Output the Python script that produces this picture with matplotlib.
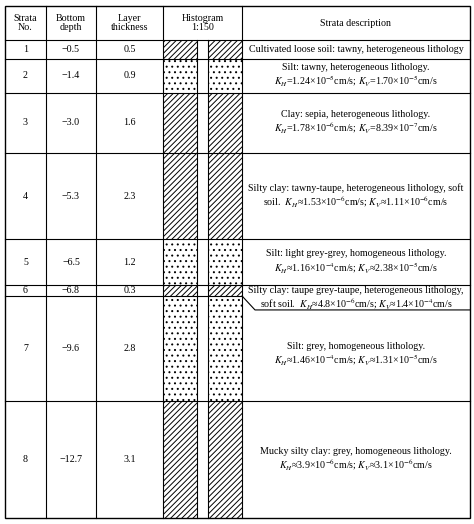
import matplotlib
matplotlib.use("Agg")
import matplotlib.pyplot as plt
from matplotlib.patches import Rectangle

plt.rcParams['font.family'] = ['Liberation Serif', 'DejaVu Serif']
plt.rcParams['mathtext.fontset'] = 'stix'
plt.rcParams['hatch.linewidth'] = 0.7

strata_no = ["1", "2", "3", "4", "5", "6", "7", "8"]
bottom_depth = ["\u22120.5", "\u22121.4", "\u22123.0", "\u22125.3", "\u22126.5", "\u22126.8", "\u22129.6", "\u221212.7"]
thickness = [0.5, 0.9, 1.6, 2.3, 1.2, 0.3, 2.8, 3.1]
hatches = ["//////", "...", "//////", "//////", "...", "//////", "...", "//////"]
descriptions = [
    "Cultivated loose soil: tawny, heterogeneous lithology",
    "Silt: tawny, heterogeneous lithology.\n$K_H$=1.24×10$^{-5}$cm/s; $K_V$=1.70×10$^{-5}$cm/s",
    "Clay: sepia, heterogeneous lithology.\n$K_H$=1.78×10$^{-6}$cm/s; $K_V$=8.39×10$^{-7}$cm/s",
    "Silty clay: tawny-taupe, heterogeneous lithology, soft\nsoil.  $K_H$≈1.53×10$^{-6}$cm/s; $K_V$≈1.11×10$^{-6}$cm/s",
    "Silt: light grey-grey, homogeneous lithology.\n$K_H$≈1.16×10$^{-4}$cm/s; $K_V$≈2.38×10$^{-5}$cm/s",
    "Silty clay: taupe grey-taupe, heterogeneous lithology,\nsoft soil.  $K_H$≈4.8×10$^{-6}$cm/s; $K_V$≈1.4×10$^{-4}$cm/s",
    "Silt: grey, homogeneous lithology.\n$K_H$≈1.46×10$^{-4}$cm/s; $K_V$≈1.31×10$^{-5}$cm/s",
    "Mucky silty clay: grey, homogeneous lithology.\n$K_H$≈3.9×10$^{-6}$cm/s; $K_V$≈3.1×10$^{-6}$cm/s",
]
headers = ["Strata\nNo.", "Bottom\ndepth", "Layer\nthickness", "Histogram\n1:150", "Strata description"]

W, H = 474, 524
fig = plt.figure(figsize=(W/100, H/100), dpi=100)
ax = fig.add_axes([0, 0, 1, 1])
ax.set_xlim(0, W); ax.set_ylim(H, 0); ax.axis('off')

cols = [5, 46, 96, 163, 242, 470]
top, hbot, bot = 6, 40, 518
scale = (bot - hbot) / sum(thickness)
lw = 0.8
fs = 7.2

for i, h in enumerate(headers):
    ax.text((cols[i]+cols[i+1])/2, (top+hbot)/2, h, ha='center', va='center', fontsize=fs, linespacing=1.1)

ax.add_patch(Rectangle((cols[0], top), cols[-1]-cols[0], bot-top, fill=False, lw=1.0, ec='black'))
for x in cols[1:-1]:
    ax.plot([x, x], [top, bot], color='black', lw=lw)
ax.plot([cols[0], cols[-1]], [hbot, hbot], color='black', lw=lw)

bars = [(163, 197), (208, 242)]
for x0 in (197, 208):
    ax.plot([x0, x0], [hbot, bot], color='black', lw=lw)

y = hbot
for i in range(len(thickness)):
    h = thickness[i] * scale
    yc = y + h/2
    for j, val in enumerate([strata_no[i], bottom_depth[i], f"{thickness[i]:.1f}"]):
        ax.text((cols[j]+cols[j+1])/2, yc, val, ha='center', va='center', fontsize=fs)
    for bx0, bx1 in bars:
        ax.add_patch(Rectangle((bx0, y), bx1-bx0, h, fill=False, hatch=hatches[i], lw=0, ec='black'))
    if i < len(thickness) - 1:
        ax.plot([cols[0], cols[4]], [y+h, y+h], color='black', lw=lw)
    dx = (cols[4]+cols[5])/2
    if i == 5:
        ax.plot([cols[4], cols[5]], [y, y], color='black', lw=lw)
        ax.plot([cols[4], cols[4]+13, cols[5]], [y+h, y+h+14, y+h+14], color='black', lw=lw)
        ax.text(dx, y + 14, descriptions[i], ha='center', va='center', fontsize=fs, linespacing=1.15)
    else:
        if i < len(thickness) - 1 and i != 4:
            ax.plot([cols[4], cols[5]], [y+h, y+h], color='black', lw=lw)
        ty = yc + 6 if i == 6 else yc
        ax.text(dx, ty, descriptions[i], ha='center', va='center', fontsize=fs, linespacing=1.15)
    y += h

fig.savefig("out.png", dpi=100)
